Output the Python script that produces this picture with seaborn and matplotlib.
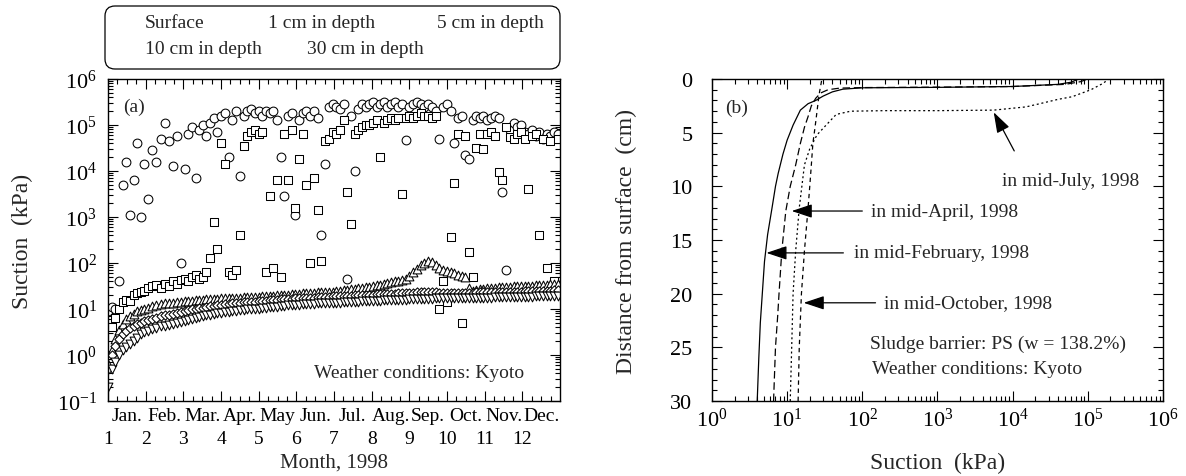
import numpy as np
import pandas as pd
import matplotlib
matplotlib.use("Agg")
import matplotlib.pyplot as plt
import seaborn as sns
from matplotlib.ticker import (FixedLocator, FuncFormatter, LogLocator,
                               LogFormatterSciNotation, NullFormatter,
                               MultipleLocator)
from matplotlib.patches import FancyBboxPatch

sns.set_theme(style="ticks")
plt.rcParams["font.family"] = ["Liberation Serif", "DejaVu Serif"]
plt.rcParams["mathtext.fontset"] = "custom"
plt.rcParams["mathtext.rm"] = "Liberation Serif"
plt.rcParams["mathtext.it"] = "Liberation Serif:italic"
plt.rcParams["mathtext.bf"] = "Liberation Serif:bold"
plt.rcParams["axes.edgecolor"] = "black"
plt.rcParams["xtick.color"] = "black"
plt.rcParams["ytick.color"] = "black"

# ---------------------------------------------------------------------------
# (a) Suction record through 1998, one reading every three days
# ---------------------------------------------------------------------------
obs_dates = pd.date_range("1998-01-01", "1998-12-31", freq="3D")

depth_labels = ["Surface", "1 cm in depth", "5 cm in depth",
                "10 cm in depth", "30 cm in depth"]

# log10 of suction (kPa)
surface_log = [
    0.95, 1.05, 1.00, 1.60, 3.70, 4.20, 3.05, 3.80, 4.60, 3.00,
    4.15, 3.40, 4.45, 4.20, 4.70, 5.05, 4.65, 4.10, 4.75, 2.00,
    4.05, 4.80, 4.95, 3.85, 4.90, 5.00, 4.75, 5.05, 5.15, 4.85,
    5.20, 5.25, 4.30, 5.10, 5.30, 3.90, 5.20, 5.30, 5.35, 5.25,
    5.30, 5.20, 5.30, 5.25, 5.30, 5.10, 4.30, 3.45, 5.20, 5.25,
    3.05, 5.10, 5.25, 5.30, 5.20, 5.30, 5.15, 2.60, 4.15, 5.40,
    5.45, 5.40, 5.35, 5.45, 1.65, 5.20, 4.00, 5.35, 5.45, 5.40,
    5.45, 5.50, 5.40, 5.45, 5.50, 5.40, 5.45, 5.50, 5.40, 5.45,
    4.67, 5.40, 5.45, 5.50, 5.45, 5.40, 5.45, 5.40, 5.30, 4.70,
    5.40, 5.45, 5.30, 4.60, 5.15, 5.20, 4.35, 4.25, 5.10, 5.20,
    5.15, 5.20, 5.10, 5.15, 5.20, 5.15, 3.55, 1.85, 4.90, 5.05,
    4.95, 5.00, 4.85, 4.80, 4.90, 4.75, 4.85, 4.70, 4.80, 4.75, 4.85, 4.80,
]
depth1_log = [
    0.00, 0.60, 0.80, 1.00, 1.15, 1.20, 1.17, 1.30, 1.35, 1.38,
    1.40, 1.45, 1.50, 1.52, 1.45, 1.55, 1.50, 1.60, 1.55, 1.62,
    1.65, 1.60, 1.70, 1.75, 1.65, 1.70, 1.80, 2.10, 2.90, 2.30,
    4.60, 4.15, 1.80, 1.75, 1.85, 2.60, 4.55, 4.75, 4.85, 4.90,
    4.80, 4.85, 1.80, 3.45, 1.90, 3.80, 1.70, 4.80, 3.80, 4.90,
    3.20, 4.25, 4.80, 3.70, 2.00, 3.85, 3.15, 2.05, 4.65, 4.70,
    4.85, 4.80, 4.90, 5.10, 3.55, 2.85, 4.80, 4.90, 4.95, 5.00,
    5.00, 5.05, 5.10, 4.30, 5.05, 5.10, 5.15, 5.10, 5.15, 3.50,
    5.15, 5.20, 5.15, 5.20, 5.25, 5.20, 5.20, 5.15, 5.20, 1.00,
    1.60, 1.15, 2.57, 3.75, 4.80, 0.70, 4.75, 2.24, 1.70, 4.50,
    4.80, 4.47, 4.80, 4.85, 4.75, 3.97, 3.80, 4.95, 4.73, 4.70,
    4.80, 4.85, 4.70, 3.60, 4.75, 4.80, 2.60, 4.70, 1.90, 4.65, 1.60, 4.70,
]
depth5_log = [
    -0.20, 0.10, 0.35, 0.55, 0.68, 0.78, 0.85, 0.90, 0.95, 0.98,
    1.00, 1.03, 1.06, 1.08, 1.10, 1.12, 1.13, 1.14, 1.15, 1.16,
    1.17, 1.18, 1.18, 1.19, 1.20, 1.20, 1.21, 1.21, 1.22, 1.22,
    1.23, 1.23, 1.24, 1.24, 1.25, 1.25, 1.26, 1.26, 1.26, 1.27,
    1.27, 1.28, 1.28, 1.29, 1.29, 1.30, 1.30, 1.31, 1.31, 1.32,
    1.33, 1.33, 1.34, 1.34, 1.35, 1.35, 1.36, 1.36, 1.37, 1.37,
    1.38, 1.39, 1.40, 1.41, 1.42, 1.43, 1.44, 1.45, 1.46, 1.47,
    1.48, 1.50, 1.52, 1.53, 1.55, 1.56, 1.58, 1.60, 1.61, 1.63,
    1.65, 1.72, 1.80, 1.88, 1.95, 2.00, 2.05, 2.02, 1.95, 1.90,
    1.85, 1.82, 1.80, 1.78, 1.75, 1.72, 1.70, 1.45, 1.40, 1.42,
    1.43, 1.44, 1.45, 1.45, 1.46, 1.47, 1.47, 1.48, 1.48, 1.49,
    1.49, 1.50, 1.50, 1.51, 1.51, 1.52, 1.52, 1.53, 1.53, 1.54, 1.54, 1.55,
]
depth10_log = [
    -0.30, 0.00, 0.20, 0.35, 0.45, 0.52, 0.58, 0.63, 0.67, 0.70,
    0.73, 0.76, 0.79, 0.81, 0.84, 0.86, 0.88, 0.90, 0.92, 0.94,
    0.95, 0.97, 0.99, 1.00, 1.02, 1.03, 1.05, 1.06, 1.07, 1.08,
    1.09, 1.10, 1.11, 1.12, 1.13, 1.14, 1.15, 1.15, 1.16, 1.16,
    1.17, 1.18, 1.18, 1.19, 1.20, 1.20, 1.21, 1.21, 1.22, 1.22,
    1.23, 1.23, 1.24, 1.24, 1.25, 1.25, 1.26, 1.26, 1.27, 1.27,
    1.28, 1.28, 1.28, 1.29, 1.29, 1.29, 1.30, 1.30, 1.30, 1.31,
    1.31, 1.31, 1.32, 1.32, 1.32, 1.33, 1.33, 1.33, 1.34, 1.34,
    1.34, 1.35, 1.35, 1.36, 1.37, 1.38, 1.38, 1.37, 1.36, 1.35,
    1.35, 1.35, 1.34, 1.34, 1.34, 1.34, 1.35, 1.35, 1.35, 1.36,
    1.36, 1.36, 1.36, 1.37, 1.37, 1.37, 1.37, 1.38, 1.38, 1.38,
    1.38, 1.38, 1.39, 1.39, 1.39, 1.39, 1.40, 1.40, 1.40, 1.40, 1.41, 1.41,
]
depth30_log = [
    -0.70, -0.30, -0.15, 0.00, 0.10, 0.18, 0.25, 0.31, 0.36, 0.45,
    0.50, 0.53, 0.56, 0.59, 0.62, 0.64, 0.66, 0.68, 0.70, 0.72,
    0.74, 0.76, 0.78, 0.80, 0.82, 0.84, 0.86, 0.88, 0.89, 0.91,
    0.92, 0.93, 0.94, 0.95, 0.96, 0.97, 0.98, 0.99, 1.00, 1.00,
    1.01, 1.02, 1.03, 1.04, 1.05, 1.05, 1.06, 1.07, 1.08, 1.08,
    1.09, 1.09, 1.10, 1.10, 1.11, 1.11, 1.12, 1.12, 1.13, 1.13,
    1.13, 1.14, 1.14, 1.15, 1.15, 1.16, 1.16, 1.16, 1.17, 1.17,
    1.17, 1.18, 1.18, 1.18, 1.19, 1.19, 1.19, 1.20, 1.20, 1.20,
    1.20, 1.21, 1.21, 1.21, 1.22, 1.22, 1.22, 1.22, 1.23, 1.23,
    1.23, 1.23, 1.23, 1.24, 1.24, 1.24, 1.24, 1.24, 1.25, 1.25,
    1.25, 1.25, 1.25, 1.25, 1.26, 1.26, 1.26, 1.26, 1.26, 1.27,
    1.27, 1.27, 1.27, 1.27, 1.27, 1.28, 1.28, 1.28, 1.28, 1.28, 1.28, 1.29,
]

month_numbers = list(range(1, 13))
month_names = ["Jan.", "Feb.", "Mar.", "Apr.", "May", "Jun.",
               "Jul.", "Aug.", "Sep.", "Oct.", "Nov.", "Dec."]

# ---------------------------------------------------------------------------
# (b) Suction profiles (suction kPa, depth cm)
# ---------------------------------------------------------------------------
feb_suction = [4.0, 4.2, 4.4, 5.0, 5.5, 6.3, 7.0, 7.6, 8.8, 10.0, 12.0, 15.0,
               19.0, 24.0, 30.0, 40.0, 55.0, 100.0, 1e3, 1e4, 4e4, 6e4, 7e4, 7.5e4]
feb_depth = [30, 26, 22.7, 17, 14.5, 12, 10, 8.8, 7, 5.7, 4.3, 2.9,
             2.3, 2.0, 1.6, 1.2, 0.95, 0.82, 0.78, 0.7, 0.5, 0.3, 0.1, 0.0]

apr_suction = [6.6, 7.0, 7.5, 7.8, 8.5, 9.6, 11.0, 13.0, 15.0, 17.0, 19.0,
               21.0, 24.0, 28.0, 35.0, 50.0, 100.0, 1e3, 1e4, 5e4, 8e4, 1e5]
apr_depth = [30, 25, 22, 20, 16, 12.3, 10, 8, 6, 4.5, 3.5,
             2.5, 1.8, 1.3, 1.0, 0.85, 0.8, 0.76, 0.7, 0.5, 0.25, 0.0]

jul_suction = [11.0, 11.5, 12.0, 13.0, 14.5, 17.0, 20.0, 25.0, 31.0, 45.0,
               70.0, 200.0, 1e3, 5.6e3, 1.5e4, 2.3e4, 4e4, 6.2e4, 1.1e5,
               1.6e5, 1.9e5]
jul_depth = [30, 25, 20, 16, 12, 8, 6.5, 5.2, 4.5, 3.3,
             3.0, 2.95, 2.95, 2.9, 2.6, 2.3, 1.9, 1.65, 1.0, 0.4, 0.0]

oct_suction = [14.0, 14.5, 15.5, 17.0, 19.0, 20.0, 21.0, 22.0, 23.0, 24.0,
               25.0, 26.0, 27.0, 28.0, 29.0]
oct_depth = [30, 25, 20, 16, 12, 10, 8, 6, 5, 4, 3, 2, 1.2, 0.6, 0.0]

profile_labels = ["in mid-February, 1998", "in mid-April, 1998",
                  "in mid-July, 1998", "in mid-October, 1998"]

# ---------------------------------------------------------------------------
W, H, DPI = 11.86, 4.77, 100
fig = plt.figure(figsize=(W, H), dpi=DPI)
ax1 = fig.add_axes([0.0911, 0.1572, 0.3811, 0.6751])
ax2 = fig.add_axes([0.6003, 0.1572, 0.3803, 0.6751])

TICK_FS = 16
LABEL_FS = 17
NOTE_FS = 14

# ---- panel (a) ------------------------------------------------------------
month_pos = (obs_dates.month + (obs_dates.day - 1) / obs_dates.days_in_month).to_numpy()
series_logs = [surface_log, depth1_log, depth5_log, depth10_log, depth30_log]
markers = ["o", "s", "^", "D", "v"]
sizes = [40, 34, 40, 22, 40]

records = []
for label, vals in zip(depth_labels, series_logs):
    records.append(pd.DataFrame({"month_pos": month_pos,
                                 "suction": 10.0 ** np.asarray(vals),
                                 "depth": label}))
df_a = pd.concat(records, ignore_index=True)

for label, mk, sz in zip(depth_labels, markers, sizes):
    sub = df_a[df_a["depth"] == label]
    sns.scatterplot(data=sub, x="month_pos", y="suction", marker=mk, s=sz,
                    color="white", edgecolor="black", linewidth=0.75,
                    legend=False, ax=ax1)

ax1.set_yscale("log")
ax1.set_ylim(0.1, 1e6)
ax1.set_xlim(1, 13)
ax1.yaxis.set_major_locator(LogLocator(base=10, numticks=20))
ax1.yaxis.set_minor_locator(LogLocator(base=10, subs=np.arange(2, 10), numticks=20))
ax1.yaxis.set_major_formatter(LogFormatterSciNotation())
ax1.yaxis.set_minor_formatter(NullFormatter())

ax1.xaxis.set_major_locator(FixedLocator(month_numbers))
ax1.xaxis.set_major_formatter(FuncFormatter(lambda v, p: f"{int(round(v))}"))
quarter_pos = [m + q for m in range(1, 13) for q in (0.25, 0.5, 0.75)]
ax1.xaxis.set_minor_locator(FixedLocator(quarter_pos))


def month_name_fmt(v, pos):
    frac = v - np.floor(v)
    if abs(frac - 0.5) < 1e-6:
        return month_names[int(np.floor(v)) - 1]
    return ""


ax1.xaxis.set_minor_formatter(FuncFormatter(month_name_fmt))

ax1.tick_params(which="both", direction="in", top=True, right=True, width=0.8)
ax1.tick_params(which="major", length=7)
ax1.tick_params(which="minor", length=3.5)
ax1.tick_params(axis="y", which="major", labelsize=TICK_FS, pad=8)
ax1.tick_params(axis="x", which="major", labelsize=14, pad=21)
ax1.tick_params(axis="x", which="minor", labelsize=14, pad=4)

ax1.set_xlabel("Month, 1998", fontsize=15)
ax1.set_ylabel("Suction  (kPa)", fontsize=LABEL_FS)
ax1.yaxis.label.set_va("center")
ax1.xaxis.label.set_va("center")
ax1.yaxis.set_label_coords(-0.19, 0.5)
ax1.xaxis.set_label_coords(0.5, -0.19)

ax1.text(0.033, 0.916, "(a)", transform=ax1.transAxes, fontsize=NOTE_FS,
         va="center", ha="left")
ax1.text(0.92, 0.09, "Weather conditions: Kyoto", transform=ax1.transAxes,
         fontsize=NOTE_FS, va="center", ha="right")

# ---- panel (b) ------------------------------------------------------------
prof_frames = []
for label, xs, ds in zip(profile_labels,
                         [feb_suction, apr_suction, jul_suction, oct_suction],
                         [feb_depth, apr_depth, jul_depth, oct_depth]):
    prof_frames.append(pd.DataFrame({"suction": xs, "depth": ds,
                                     "profile": label}))
df_b = pd.concat(prof_frames, ignore_index=True)

dash_map = {profile_labels[0]: "",
            profile_labels[1]: (6, 3),
            profile_labels[2]: (1.6, 2.2),
            profile_labels[3]: (3.5, 3)}
sns.lineplot(data=df_b, x="suction", y="depth", style="profile",
             style_order=profile_labels, dashes=dash_map, sort=False,
             estimator=None, color="black", linewidth=0.9, legend=False,
             ax=ax2)

ax2.set_xscale("log")
ax2.set_xlim(1, 1e6)
ax2.set_ylim(30, 0)
ax2.xaxis.set_major_locator(LogLocator(base=10, numticks=20))
ax2.xaxis.set_minor_locator(LogLocator(base=10, subs=np.arange(2, 10), numticks=20))
ax2.xaxis.set_major_formatter(LogFormatterSciNotation())
ax2.xaxis.set_minor_formatter(NullFormatter())
ax2.yaxis.set_major_locator(MultipleLocator(5))
ax2.yaxis.set_minor_locator(MultipleLocator(1))

ax2.tick_params(which="both", direction="in", top=True, right=True, width=0.8)
ax2.tick_params(which="major", length=7)
ax2.tick_params(which="minor", length=3.5)
ax2.tick_params(axis="x", which="major", labelsize=TICK_FS, pad=5)
ax2.tick_params(axis="y", which="major", labelsize=TICK_FS, pad=14)

ax2.set_xlabel("Suction  (kPa)", fontsize=LABEL_FS)
ax2.set_ylabel("Distance from surface  (cm)", fontsize=LABEL_FS)
ax2.yaxis.label.set_va("center")
ax2.xaxis.label.set_va("center")
ax2.yaxis.set_label_coords(-0.19, 0.5)
ax2.xaxis.set_label_coords(0.5, -0.19)

arrow_kw = dict(arrowstyle="-|>,head_length=0.9,head_width=0.3",
                color="black", lw=0.9, shrinkA=0, shrinkB=0,
                mutation_scale=14)
ax2.annotate("", xy=(5.6e3, 3.1), xytext=(1.05e4, 6.7), arrowprops=arrow_kw)
ax2.text(7.2e3, 9.5, profile_labels[2], fontsize=NOTE_FS, va="center", ha="left")

ax2.annotate("", xy=(11.5, 12.3), xytext=(100, 12.3), arrowprops=arrow_kw)
ax2.text(131, 12.3, profile_labels[1], fontsize=NOTE_FS, va="center", ha="left")

ax2.annotate("", xy=(5.3, 16.2), xytext=(56, 16.2), arrowprops=arrow_kw)
ax2.text(77, 16.2, profile_labels[0], fontsize=NOTE_FS, va="center", ha="left")

ax2.annotate("", xy=(16.6, 20.85), xytext=(150, 20.85), arrowprops=arrow_kw)
ax2.text(195, 20.85, profile_labels[3], fontsize=NOTE_FS, va="center", ha="left")

ax2.text(126, 24.6, "Sludge barrier: PS (w = 138.2%)", fontsize=NOTE_FS,
         va="center", ha="left")
ax2.text(134, 27.0, "Weather conditions: Kyoto", fontsize=NOTE_FS,
         va="center", ha="left")
ax2.text(1.5, 2.6, "(b)", fontsize=NOTE_FS, va="center", ha="left")

for ax in (ax1, ax2):
    for sp in ax.spines.values():
        sp.set_linewidth(1.0)
        sp.set_color("black")

# ---- key box above panel (a) ---------------------------------------------
key_box = FancyBboxPatch((1.05, 4.07), 4.55, 0.63,
                         boxstyle="round,pad=0,rounding_size=0.1",
                         transform=fig.dpi_scale_trans, facecolor="white",
                         edgecolor="black", linewidth=0.9)
fig.add_artist(key_box)
key_pos = {depth_labels[0]: (1.45, 4.53), depth_labels[1]: (2.68, 4.53),
           depth_labels[2]: (4.37, 4.53), depth_labels[3]: (1.45, 4.27),
           depth_labels[4]: (3.07, 4.27)}
for label in depth_labels:
    kx, ky = key_pos[label]
    fig.text(kx, ky, label, transform=fig.dpi_scale_trans, fontsize=14,
             va="center", ha="left")

fig.savefig("out.png", dpi=DPI)
